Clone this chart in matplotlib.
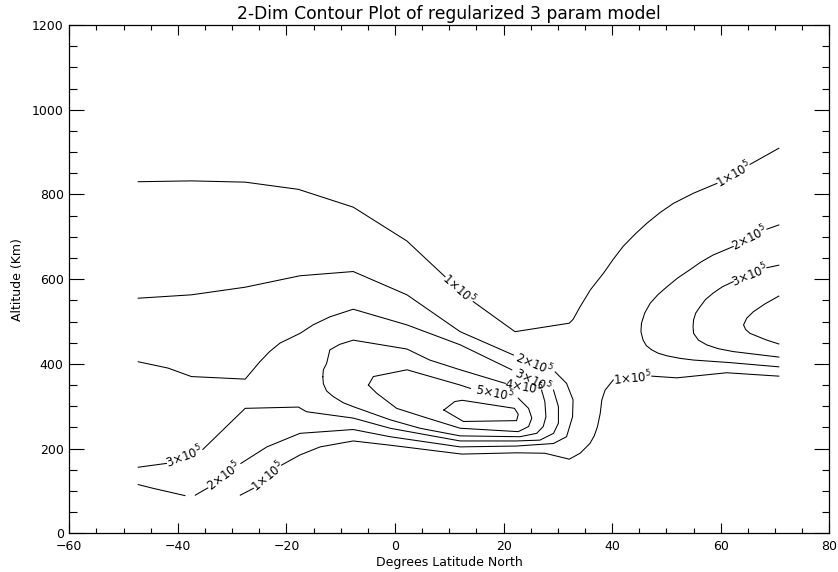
import numpy as np
import matplotlib.pyplot as plt
from matplotlib.ticker import MultipleLocator

nan = np.nan

# Contour paths of the regularized 3 parameter model (latitude deg N, altitude km).
# A nan splits a path where the level label is written.
lat_1e5_top = [-47.3, -37.5, -27.6, -17.8, -7.7, 2.2, 9.2, nan, 14.4, 22.1, 32.1, 32.8,
               34.1, 36.0, 38.4, 40.2, 42.0, 44.2, 46.4, 48.8, 51.3, 55.0, 59.3, nan,
               65.4, 70.7]
alt_1e5_top = [830, 832, 829, 812, 770, 690, 606, nan, 547, 476, 496, 505,
               535, 575, 614, 647, 677, 706, 732, 757, 779, 803, 826, nan,
               871, 909]

lat_1e5_low = [-28.5, -26.1, nan, -20.9, -17.5, -13.8, -7.7, -0.9, 12.3, 22.4, 27.6, 32.1,
               34.1, 35.9, 36.7, 37.3, 37.8, 38.1, 38.7, 40.2, nan, 47.3, 51.9, 61.1, 70.7]
alt_1e5_low = [90, 106, nan, 161, 185, 204, 218, 208, 187, 190, 189, 175,
               189, 212, 230, 252, 283, 315, 338, 362, nan, 371, 367, 379, 371]

lat_2e5 = [-47.3, -37.5, -27.6, -17.5, -7.7, 2.2, 12.0, 21.8, nan, 29.5, 31.6, 32.8, 32.7,
           31.6, 29.2, 22.4, 12.0, -0.9, -7.7, -17.5, -23.6, -28.4, nan, -34.5, -36.8]
alt_2e5 = [555, 563, 581, 608, 618, 563, 476, 421, nan, 381, 354, 315, 275,
           228, 212, 206, 204, 228, 245, 236, 204, 165, nan, 107, 90]

lat_2e5_corner = [-47.3, -44.5, -38.7]
alt_2e5_corner = [115, 106, 89]

lat_2e5_east = [70.7, 68.5, nan, 62.3, 58.6, 56.3, 54.3, 52.1, 50.1, 48.4, 47.0, 46.0,
                45.4, 45.3, 45.7, 46.3, 47.3, 48.5, 50.1, 52.5, 55.0, 61.7, 70.7]
alt_2e5_east = [728, 718, nan, 677, 657, 640, 622, 603, 582, 563, 543, 520,
                496, 476, 456, 443, 433, 425, 419, 413, 409, 403, 393]

lat_3e5 = [-47.3, -41.8, -37.5, -27.6, -24.9, -23.1, -21.2, -17.5, -15.1, -12.0, -7.7,
           2.2, 12.0, 21.5, nan, 29.2, 30.1, 30.1, 29.2, 26.7, 22.4, 12.0, -0.9, -7.7,
           -16.3, -17.8, -27.6, -35.4, nan, -42.1, -47.3]
alt_3e5 = [405, 390, 370, 364, 405, 429, 449, 472, 492, 511, 529,
           492, 445, 386, nan, 338, 299, 260, 236, 220, 218, 218, 248, 272,
           287, 298, 295, 198, nan, 165, 156]

lat_3e5_east = [70.7, 68.5, nan, 62.3, 60.3, 58.6, 57.2, 56.2, 55.4, 55.0, 54.9, 55.0,
                55.9, 57.4, 59.5, 62.3, 70.7]
alt_3e5_east = [633, 627, nan, 594, 582, 567, 552, 535, 520, 504, 488, 472,
                456, 445, 436, 429, 416]

lat_4e5 = [-13.3, -13.2, -12.6, -12.0, -10.2, -7.7, 2.2, 6.4, 12.0, 20.3, nan, 27.0, 27.6,
           27.8, 27.3, 26.1, 23.0, 12.0, 4.6, -0.9, -7.7, -9.5, -11.4, -12.6, -13.2, -13.3]
alt_4e5 = [370, 386, 401, 433, 446, 456, 435, 409, 386, 354, nan, 338, 311,
           275, 252, 236, 228, 230, 248, 268, 299, 308, 323, 336, 353, 370]

lat_4e5_east = [70.7, 68.2, 66.0, 64.8, 64.2, 64.6, 65.4, 68.5, 70.7]
alt_4e5_east = [560, 542, 523, 508, 492, 481, 472, 456, 447]

lat_5e5 = [-4.9, -4.0, 2.2, 12.0, 13.9, nan, 22.7, 24.6, 25.2, 24.6, 22.7, 12.0,
           5.2, 0.3, -3.4, -4.9]
alt_5e5 = [350, 370, 386, 350, 342, nan, 319, 295, 272, 252, 240, 248,
           275, 295, 331, 350]

lat_6e5 = [9.0, 11.0, 12.4, 22.0, 22.7, 22.4, 12.6, 9.0]
alt_6e5 = [291, 311, 314, 295, 281, 266, 264, 291]

# (lat, alt, label mantissa for each gap)
paths = [
    (lat_1e5_top, alt_1e5_top, ['1', '1']),
    (lat_1e5_low, alt_1e5_low, ['1', '1']),
    (lat_2e5, alt_2e5, ['2', '2']),
    (lat_2e5_corner, alt_2e5_corner, []),
    (lat_2e5_east, alt_2e5_east, ['2']),
    (lat_3e5, alt_3e5, ['3', '3']),
    (lat_3e5_east, alt_3e5_east, ['3']),
    (lat_4e5, alt_4e5, ['4']),
    (lat_4e5_east, alt_4e5_east, []),
    (lat_5e5, alt_5e5, ['5']),
    (lat_6e5, alt_6e5, []),
]

fig = plt.figure(figsize=(8.38, 5.72), dpi=100)
ax = fig.add_axes([69.3 / 838, 1 - 533.3 / 572, 760 / 838, 508.3 / 572])
ax.set_xlim(-60, 80)
ax.set_ylim(0, 1200)

for lat, alt, labels in paths:
    lat = np.asarray(lat, float)
    alt = np.asarray(alt, float)
    ax.plot(lat, alt, color='black', lw=0.75)
    gaps = np.where(np.isnan(lat))[0]
    for g, m in zip(gaps, labels):
        p0 = ax.transData.transform((lat[g - 1], alt[g - 1]))
        p1 = ax.transData.transform((lat[g + 1], alt[g + 1]))
        ang = np.degrees(np.arctan2(p1[1] - p0[1], p1[0] - p0[0]))
        if ang > 90:
            ang -= 180
        elif ang < -90:
            ang += 180
        xm = (lat[g - 1] + lat[g + 1]) / 2
        ym = (alt[g - 1] + alt[g + 1]) / 2
        ax.text(xm, ym, m + r'$\times$10$^5$', fontsize=8.5, rotation=ang,
                rotation_mode='anchor', ha='center', va='center')

ax.xaxis.set_major_locator(MultipleLocator(20))
ax.xaxis.set_minor_locator(MultipleLocator(5))
ax.yaxis.set_major_locator(MultipleLocator(200))
ax.yaxis.set_minor_locator(MultipleLocator(50))
ax.tick_params(which='both', direction='in', top=True, right=True, width=0.8,
               labelsize=9, colors='black')
ax.tick_params(axis='x', which='major', length=7.2, pad=5)
ax.tick_params(axis='x', which='minor', length=3.6)
ax.tick_params(axis='y', which='major', length=10.8, pad=4)
ax.tick_params(axis='y', which='minor', length=5.4)
for s in ax.spines.values():
    s.set_linewidth(0.9)

ax.set_title('2-Dim Contour Plot of regularized 3 param model', fontsize=12.3, pad=4)
ax.set_xlabel('Degrees Latitude North', fontsize=9, labelpad=2)
ax.set_ylabel('Altitude (Km)', fontsize=9, labelpad=6)

fig.savefig('out.png', dpi=100)
